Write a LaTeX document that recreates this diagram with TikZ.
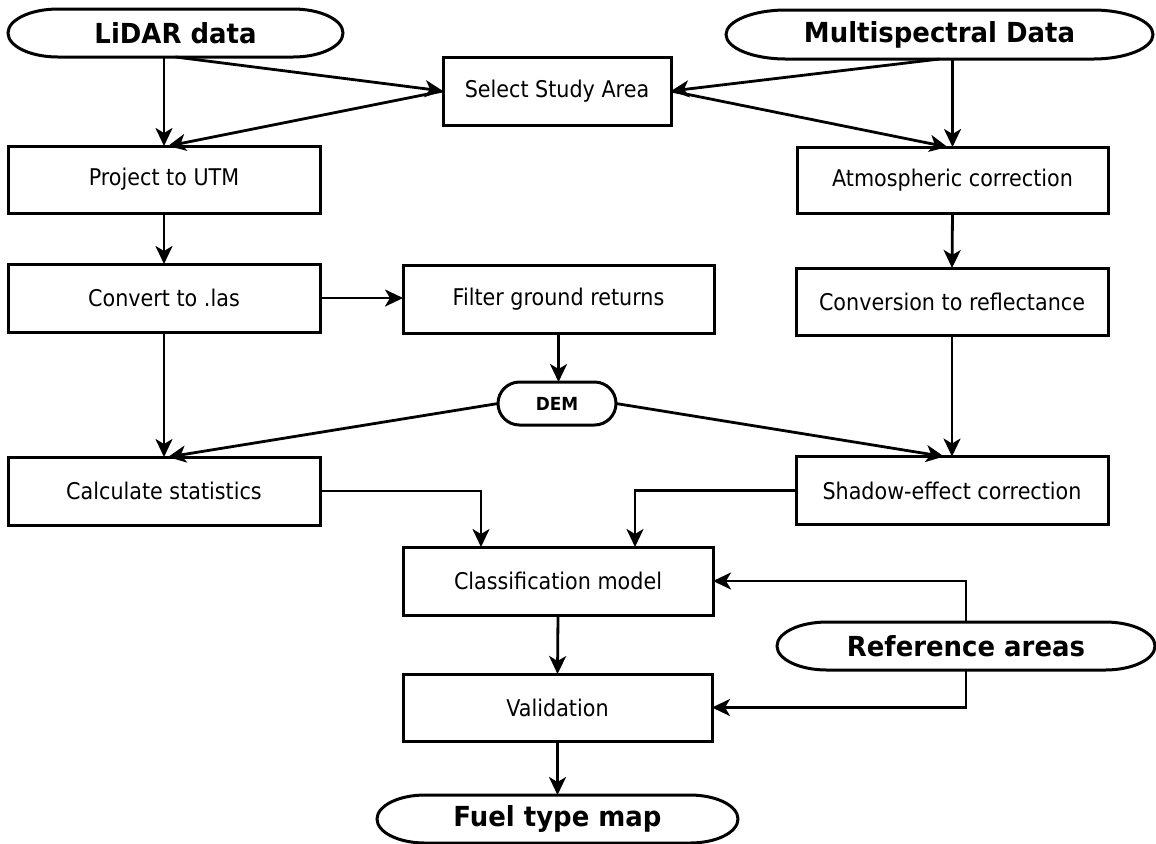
\documentclass[tikz,border=0pt]{standalone}
\usepackage{fontspec}
\setmainfont{DejaVu Sans}[FakeStretch=0.9]
\newfontfamily\boldlab{DejaVu Sans}[FakeStretch=0.94]
\usetikzlibrary{arrows.meta,calc}
\tikzset{
  procbox/.style={draw, line width=1.5pt, rectangle, inner sep=0pt, outer sep=0pt,
    font=\fontsize{11.5pt}{13pt}\selectfont},
  termbox/.style={rectangle, inner sep=0pt, outer sep=0pt,
    font=\boldlab\bfseries\fontsize{13.8pt}{15pt}\selectfont},
  demtext/.style={rectangle, inner sep=0pt, outer sep=0pt,
    font=\boldlab\bfseries\fontsize{9pt}{10pt}\selectfont},
  outline/.style={line width=1.5pt},
  arr/.style={line width=1.4pt, -{Stealth[length=9pt,width=8.5pt,inset=2.5pt]}}
}
\newcommand\stadoutline[3]{%
  \draw[outline] ([xshift=#2]#1.north west) -- ([xshift=-#2]#1.north east)
    arc[start angle=90,end angle=-90,x radius=#2,y radius=#3]
    -- ([xshift=#2]#1.south west)
    arc[start angle=270,end angle=90,x radius=#2,y radius=#3] -- cycle;}
\begin{document}
\begin{tikzpicture}[x=0.5pt,y=-0.5pt]
\useasboundingbox[fill=white] (0,0) rectangle (1156,843);

% terminals
\node[termbox, minimum width=167.5pt, minimum height=24pt] (lidar) at (175.5,33) {LiDAR data};
\stadoutline{lidar}{25pt}{12pt}
\node[termbox, minimum width=213.5pt, minimum height=24.5pt] (multi) at (939.5,34.5) {Multispectral Data};
\stadoutline{multi}{30pt}{12.25pt}
\node[termbox, minimum width=189pt, minimum height=24pt] (ref) at (966,646) {Reference areas};
\stadoutline{ref}{25pt}{12pt}
\node[termbox, minimum width=180.5pt, minimum height=24pt] (fuel) at (557.5,819) {Fuel type map};
\stadoutline{fuel}{24pt}{12pt}
\node[demtext, minimum width=59pt, minimum height=21.5pt] (dem) at (557,403.5) {DEM};
\stadoutline{dem}{10.75pt}{10.75pt}

% process boxes
\node[procbox, minimum width=114pt, minimum height=34pt] (ssa) at (557,91) {Select Study Area};
\node[procbox, minimum width=156pt, minimum height=33.5pt] (proj) at (164,179.5) {Project to UTM};
\node[procbox, minimum width=155.5pt, minimum height=33pt] (atmo) at (952.5,180) {Atmospheric correction};
\node[procbox, minimum width=156pt, minimum height=34pt] (conv) at (164,298) {Convert to .las};
\node[procbox, minimum width=155.5pt, minimum height=34pt] (filt) at (558.5,299) {Filter ground returns};
\node[procbox, minimum width=156pt, minimum height=33.5pt] (refl) at (952,301.5) {Conversion to reflectance};
\node[procbox, minimum width=156pt, minimum height=34pt] (calc) at (164,491) {Calculate statistics};
\node[procbox, minimum width=156pt, minimum height=34pt] (shad) at (952,490.5) {Shadow-effect correction};
\node[procbox, minimum width=155pt, minimum height=34pt] (class) at (558,581) {Classification model};
\node[procbox, minimum width=154.5pt, minimum height=33.5pt] (val) at (557.5,707.5) {Validation};

% connectors
\draw[arr] (lidar.south -| proj.north) -- (proj.north);
\draw[arr] (lidar.south) -- (ssa.west);
\draw[arr] (ssa.west) -- ([xshift=2pt]proj.north);
\draw[arr] (multi.south) -- (ssa.east);
\draw[arr] (ssa.east) -- ([xshift=-2.5pt]atmo.north);
\draw[arr] (multi.south -| atmo.north) -- (atmo.north);
\draw[arr] (proj.south) -- (conv.north);
\draw[arr] (conv.east) -- (conv.east -| filt.west);
\draw[arr] (filt.south) -- (filt.south |- dem.north);
\draw[arr] (conv.south) -- (calc.north);
\draw[arr] (dem.west) -- ([xshift=2pt]calc.north);
\draw[arr] (atmo.south) -- (refl.north);
\draw[arr] (refl.south) -- (shad.north);
\draw[arr] (dem.east) -- ([xshift=-4pt]shad.north);
\draw[arr] (calc.east) -| ([xshift=-38.5pt]class.north);
\draw[arr] (shad.west) -| ([xshift=38.5pt]class.north);
\draw[arr] (class.south) -- (val.north);
\draw[arr] (ref.north) |- (class.east);
\draw[arr] (ref.south) |- (val.east);
\draw[arr] (val.south) -- (fuel.north);
\end{tikzpicture}
\end{document}
